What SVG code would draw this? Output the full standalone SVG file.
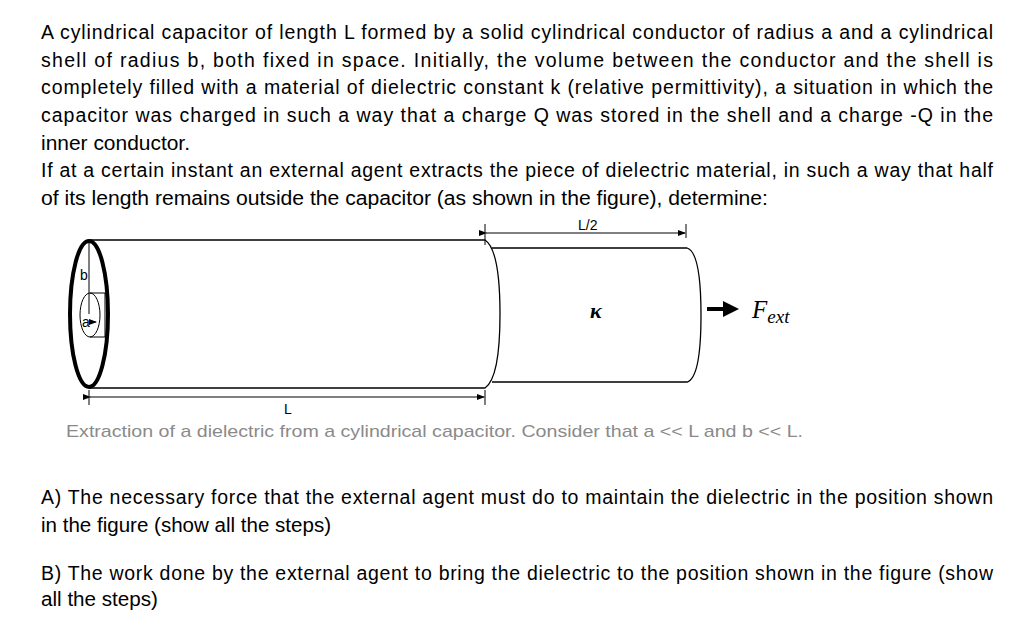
<svg xmlns="http://www.w3.org/2000/svg" width="1031" height="618" viewBox="0 0 1031 618">
<style>
.t{font-family:"Liberation Sans",Arial,sans-serif;font-size:19.5px;fill:#000}
.c{font-family:"Liberation Sans",Arial,sans-serif;font-size:17px;fill:#8a8a8a}
.l{font-family:"Liberation Sans",Arial,sans-serif;font-size:14px;fill:#000}
.s{fill:none;stroke:#000;stroke-width:1.3}
.d{fill:none;stroke:#000;stroke-width:1}
</style>
<defs>
<marker id="ah" markerWidth="8" markerHeight="6" refX="7" refY="3" orient="auto"><path d="M0,0 L8,3 L0,6 Z" fill="#000"/></marker>
<marker id="big" markerWidth="4" markerHeight="4" refX="3" refY="2" orient="auto"><path d="M0,0 L4,2 L0,4 Z" fill="#000"/></marker>
</defs>
<rect width="1031" height="618" fill="#fff"/>
<g id="text">
<text class="t" x="41" y="39" textLength="952" lengthAdjust="spacing">A cylindrical capacitor of length L formed by a solid cylindrical conductor of radius a and a cylindrical</text>
<text class="t" x="41" y="67" textLength="952" lengthAdjust="spacing">shell of radius b, both fixed in space. Initially, the volume between the conductor and the shell is</text>
<text class="t" x="41" y="94" textLength="952" lengthAdjust="spacing">completely filled with a material of dielectric constant k (relative permittivity), a situation in which the</text>
<text class="t" x="41" y="122" textLength="952" lengthAdjust="spacing">capacitor was charged in such a way that a charge Q was stored in the shell and a charge -Q in the</text>
<text class="t" x="41" y="150" textLength="149" lengthAdjust="spacingAndGlyphs">inner conductor.</text>
<text class="t" x="41" y="177" textLength="952" lengthAdjust="spacing">If at a certain instant an external agent extracts the piece of dielectric material, in such a way that half</text>
<text class="t" x="41" y="205" textLength="727" lengthAdjust="spacingAndGlyphs">of its length remains outside the capacitor (as shown in the figure), determine:</text>
<text class="c" x="66" y="437" textLength="737" lengthAdjust="spacingAndGlyphs">Extraction of a dielectric from a cylindrical capacitor. Consider that a &lt;&lt; L and b &lt;&lt; L.</text>
<text class="t" x="41" y="504" textLength="952" lengthAdjust="spacing">A) The necessary force that the external agent must do to maintain the dielectric in the position shown</text>
<text class="t" x="41" y="532" textLength="290" lengthAdjust="spacingAndGlyphs">in the figure (show all the steps)</text>
<text class="t" x="41" y="580" textLength="952" lengthAdjust="spacing">B) The work done by the external agent to bring the dielectric to the position shown in the figure (show</text>
<text class="t" x="41" y="606" textLength="117" lengthAdjust="spacingAndGlyphs">all the steps)</text>
</g>
<g id="dielectric">
<path class="s" d="M492,248 H687 Q701,252 701,315 Q701,378 687,382 H492"/>
<text x="590" y="318" font-family="'Liberation Serif',serif" font-style="italic" font-weight="bold" font-size="22">κ</text>
</g>
<g id="capacitor">
<path class="s" d="M89,240 H485 Q500,250 500,314 Q500,378 485,388 H89"/>
<ellipse cx="89" cy="314" rx="19" ry="73" fill="none" stroke="#000" stroke-width="4"/>
<ellipse cx="90" cy="315" rx="10" ry="22" class="d"/>
<path class="d" d="M90,293 H105 V337 H90"/>
<line class="d" x1="89" y1="242" x2="89" y2="314"/>
<text class="l" x="80" y="280">b</text>
<text class="l" x="82" y="327">a</text>
<line class="d" x1="91" y1="322" x2="96" y2="322" marker-end="url(#ah)"/>
</g>
<g id="connectors">
<line class="d" x1="485" y1="224" x2="485" y2="245"/>
<line class="d" x1="686" y1="224" x2="686" y2="238"/>
<line class="d" x1="486" y1="233" x2="685" y2="233" marker-start="url(#ah)" marker-end="url(#ah)"/>
<text class="l" x="578" y="230">L/2</text>
<line class="d" x1="89" y1="390" x2="89" y2="405"/>
<line class="d" x1="485" y1="390" x2="485" y2="405"/>
<line class="d" x1="90" y1="397" x2="484" y2="397" marker-start="url(#ah)" marker-end="url(#ah)"/>
<text class="l" x="284" y="414">L</text>
<line x1="707" y1="309" x2="735" y2="309" stroke="#000" stroke-width="4" marker-end="url(#big)"/>
<text x="752" y="318" font-family="'Liberation Serif',serif" font-style="italic" font-size="25">F<tspan font-size="19" dy="5">ext</tspan></text>
</g>
</svg>
